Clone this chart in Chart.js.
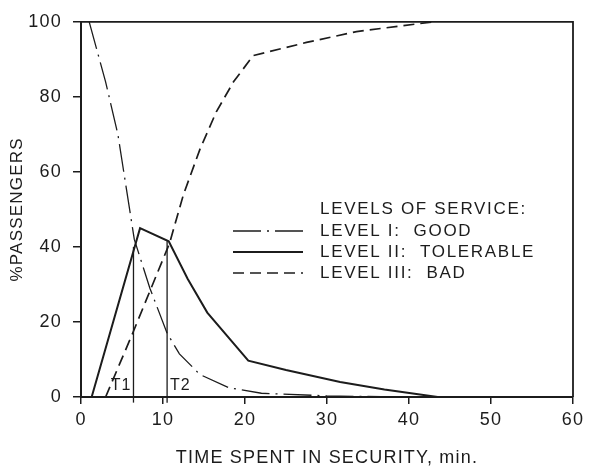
<!DOCTYPE html>
<html>
<head>
<meta charset="utf-8">
<script src="https://cdn.jsdelivr.net/npm/chart.js@4"></script>
<style>
  html, body { margin: 0; padding: 0; background: #fff; }
  #wrap { width: 592px; height: 469px; position: relative; }
</style>
</head>
<body>
<div id="wrap"><canvas id="chart"></canvas></div>
<script>
// level I: good (dash-dot)
const goodX = [1, 3, 4.5, 6.5, 8.4, 10.5, 12, 14.5, 18, 22, 30, 39];
const goodY = [100, 84, 70, 42, 29, 17, 11.5, 6, 2.5, 1, 0.3, 0];
// level II: tolerable (solid)
const tolerableX = [1.3, 7.2, 10.7, 13, 15.4, 20.4, 25, 31.6, 37, 43.5, 60];
const tolerableY = [0, 45, 41.5, 31.5, 22.5, 9.7, 7.2, 4, 2, 0, 0];
// level III: bad (dashed)
const badX = [3, 6.3, 10.8, 12.5, 14.5, 16.5, 18.6, 21, 27.5, 33.6, 43];
const badY = [0, 17, 41, 54, 66, 76, 84, 91, 94.5, 97.4, 100];

// T1 / T2 markers
const markLabels = ['T1', 'T2'];
const markX = [6.4, 10.5];
const markTop = [40, 41.5];
const markBottom = -1.5;
const markLabelX = [4.9, 12.1];
const markLabelY = 3;

const legendTitle = 'LEVELS OF SERVICE:';
const legendLabels = ['LEVEL I:  GOOD', 'LEVEL II:  TOLERABLE', 'LEVEL III:  BAD'];

const INK = '#1c1c1c';
const FONT = '"Liberation Sans", Arial, sans-serif';

const pts = (xs, ys) => xs.map((x, i) => ({ x: x, y: ys[i] }));

const levelSets = [
    { label: legendLabels[0], data: pts(goodX, goodY), borderWidth: 1.3, borderDash: [28, 6, 2, 6] },
    { label: legendLabels[1], data: pts(tolerableX, tolerableY), borderWidth: 2, borderDash: [] },
    { label: legendLabels[2], data: pts(badX, badY), borderWidth: 1.7, borderDash: [11, 6] }
];

const markSets = markX.map((x, i) => ({
    label: markLabels[i],
    data: [{ x: x, y: markBottom }, { x: x, y: markTop[i] }],
    borderWidth: 1.3,
    borderDash: [],
    clip: false
}));

// box, legend and T labels
const extras = {
    id: 'extras',
    beforeDraw(chart) {
        chart.ctx.letterSpacing = '1.2px';
    },
    afterDatasetsDraw(chart) {
        const { ctx, chartArea: a, scales } = chart;
        ctx.save();
        ctx.strokeStyle = INK;
        ctx.lineWidth = 1.8;
        ctx.beginPath();
        ctx.moveTo(a.left, a.top);
        ctx.lineTo(a.right, a.top);
        ctx.lineTo(a.right, a.bottom);
        ctx.stroke();

        ctx.fillStyle = INK;
        ctx.font = '16px ' + FONT;
        ctx.letterSpacing = '1px';
        ctx.textAlign = 'center';
        ctx.textBaseline = 'middle';
        markLabels.forEach((t, i) => {
            ctx.fillText(t, scales.x.getPixelForValue(markLabelX[i]), scales.y.getPixelForValue(markLabelY));
        });

        // legend
        const lx0 = 233, lx1 = 303, tx = 320;
        ctx.font = '17px ' + FONT;
        ctx.letterSpacing = '1.7px';
        ctx.textAlign = 'left';
        ctx.fillText(legendTitle, tx, 209);
        const rows = [231, 252, 273];
        levelSets.forEach((ds, i) => {
            ctx.beginPath();
            ctx.lineWidth = ds.borderWidth;
            ctx.setLineDash(ds.borderDash);
            ctx.moveTo(lx0, rows[i]);
            ctx.lineTo(lx1, rows[i]);
            ctx.stroke();
            ctx.setLineDash([]);
            ctx.fillText(ds.label, tx, rows[i]);
        });
        ctx.restore();
    }
};

new Chart(document.getElementById('chart'), {
    type: 'scatter',
    data: {
        datasets: levelSets.concat(markSets).map(ds => Object.assign({
            showLine: true,
            borderColor: INK,
            backgroundColor: INK,
            pointRadius: 0,
            pointHoverRadius: 0,
            tension: 0,
            fill: false
        }, ds))
    },
    options: {
        responsive: true,
        maintainAspectRatio: false,
        animation: false,
        events: [],
        layout: { padding: { top: 15, right: 19, left: 0, bottom: 0 } },
        plugins: {
            legend: { display: false },
            tooltip: { enabled: false }
        },
        scales: {
            x: {
                type: 'linear',
                min: 0,
                max: 60,
                ticks: { stepSize: 10, color: INK, padding: 5, font: { family: FONT, size: 18 } },
                grid: { drawOnChartArea: false, tickLength: 7, color: INK, lineWidth: 1.5 },
                border: { color: INK, width: 2 },
                title: {
                    display: true,
                    text: 'TIME SPENT IN SECURITY, min.',
                    color: INK,
                    font: { family: FONT, size: 18 },
                    padding: { top: 0, bottom: 0 }
                },
                afterFit(s) { s.height = 72; }
            },
            y: {
                min: 0,
                max: 100,
                ticks: { stepSize: 20, color: INK, padding: 11, font: { family: FONT, size: 18 } },
                grid: { drawOnChartArea: false, tickLength: 8, color: INK, lineWidth: 1.5 },
                border: { color: INK, width: 2 },
                title: {
                    display: true,
                    text: '%PASSENGERS',
                    color: INK,
                    font: { family: FONT, size: 17 },
                    padding: { top: 7, bottom: 0 }
                },
                afterFit(s) { s.width = 81; }
            }
        }
    },
    plugins: [extras]
});
</script>
</body>
</html>
